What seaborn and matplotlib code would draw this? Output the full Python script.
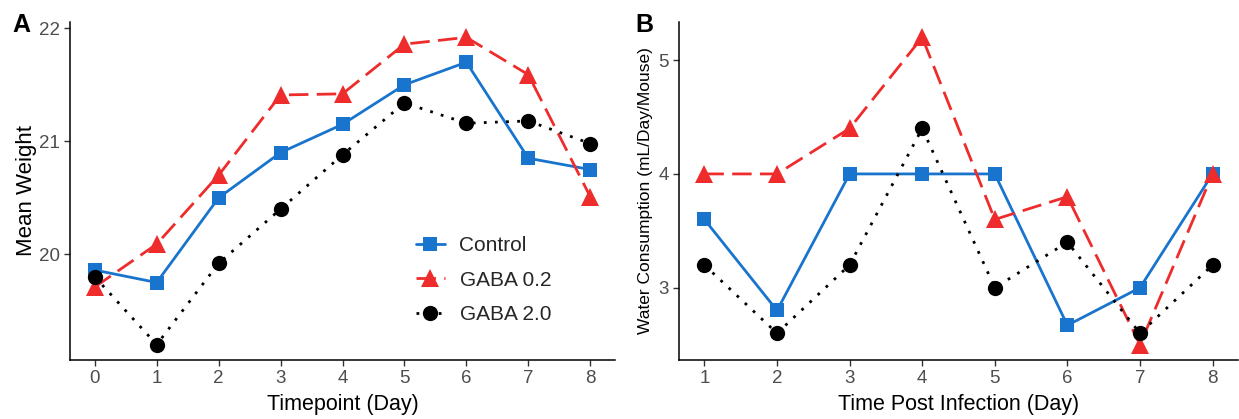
import numpy as np
import pandas as pd
import matplotlib
matplotlib.use("Agg")
import matplotlib.pyplot as plt
import seaborn as sns

groups = ["Control", "GABA 0.2", "GABA 2.0"]

# panel A: mean weight per timepoint
days_a = [0, 1, 2, 3, 4, 5, 6, 7, 8]
weight_control = [19.86, 19.75, 20.50, 20.90, 21.15, 21.50, 21.70, 20.85, 20.75]
weight_gaba02 = [19.71, 20.09, 20.70, 21.41, 21.42, 21.86, 21.92, 21.59, 20.51]
weight_gaba20 = [19.80, 19.20, 19.92, 20.40, 20.88, 21.34, 21.16, 21.18, 20.98]

# panel B: water consumption
days_b = [1, 2, 3, 4, 5, 6, 7, 8]
water_control = [3.6, 2.8, 4.0, 4.0, 4.0, 2.67, 3.0, 4.0]
water_gaba02 = [4.0, 4.0, 4.4, 5.2, 3.6, 3.8, 2.5, 4.0]
water_gaba20 = [3.2, 2.6, 3.2, 4.4, 3.0, 3.4, 2.6, 3.2]


def long_df(days, series):
    rows = []
    for g, vals in zip(groups, series):
        for d, v in zip(days, vals):
            rows.append({"day": d, "value": v, "group": g})
    return pd.DataFrame(rows)


df_a = long_df(days_a, [weight_control, weight_gaba02, weight_gaba20])
df_b = long_df(days_b, [water_control, water_gaba02, water_gaba20])

sns.set_style("ticks")
plt.rcParams["font.family"] = ["Liberation Sans", "DejaVu Sans"]

palette = {"Control": "#1874CD", "GABA 0.2": "#EE2C2C", "GABA 2.0": "#000000"}
markers = {"Control": "s", "GABA 0.2": "^", "GABA 2.0": "o"}
dashes = {"Control": "", "GABA 0.2": (7, 3), "GABA 2.0": (1, 3)}
msize = {"Control": 10, "GABA 0.2": 12.5, "GABA 2.0": 11}

W, H = 1239, 419
fig = plt.figure(figsize=(W / 100, H / 100), dpi=100)
ax_a = fig.add_axes([70 / W, 59 / H, 545 / W, 338 / H])
ax_b = fig.add_axes([679 / W, 59 / H, 559 / W, 338 / H])


def draw(ax, df, days, xlabel, ylabel, ylab_size):
    sns.lineplot(data=df, x="day", y="value", hue="group", style="group",
                 palette=palette, markers=markers, dashes=dashes,
                 linewidth=2.0, markersize=11, markeredgewidth=0, ax=ax)
    for line, g in zip(ax.get_lines()[:3], groups):
        line.set_markersize(msize[g])
    lo, hi = df["value"].min(), df["value"].max()
    pad = (hi - lo) * 0.05
    ax.set_ylim(lo - pad, hi + pad)
    xpad = (max(days) - min(days)) * 0.05
    ax.set_xlim(min(days) - xpad, max(days) + xpad)
    ax.set_xticks(days)
    ax.set_xlabel(xlabel, fontsize=15.5, color="black", labelpad=5)
    ax.set_ylabel(ylabel, fontsize=ylab_size, color="black")
    ax.tick_params(axis="both", labelsize=13.5, labelcolor="#4D4D4D",
                   color="#333333", length=4, width=1)
    for s in ["left", "bottom"]:
        ax.spines[s].set_linewidth(1.1)
        ax.spines[s].set_color("black")
    sns.despine(ax=ax)


draw(ax_a, df_a, days_a, "Timepoint (Day)", "Mean Weight", 16)
ax_a.set_yticks([20, 21, 22])
ax_a.yaxis.labelpad = 1

draw(ax_b, df_b, days_b, "Time Post Infection (Day)",
     "Water Consumption (mL/Day/Mouse)", 12.5)
ax_b.set_yticks([3, 4, 5])
ax_b.yaxis.labelpad = 4
ax_b.get_legend().remove()

handles, labels = ax_a.get_legend_handles_labels()
for h, g in zip(handles, labels):
    h.set_markersize(msize[g])
ax_a.legend(handles, labels, frameon=False, loc="lower left",
            bbox_to_anchor=(0.6, 0.05), fontsize=15, handlelength=1.4,
            handletextpad=0.7, labelspacing=0.75)

fig.text(12 / W, 1 - 32 / H, "A", fontsize=18, fontweight="bold", color="black")
fig.text(635 / W, 1 - 32 / H, "B", fontsize=18, fontweight="bold", color="black")

fig.savefig("out.png", dpi=100)
